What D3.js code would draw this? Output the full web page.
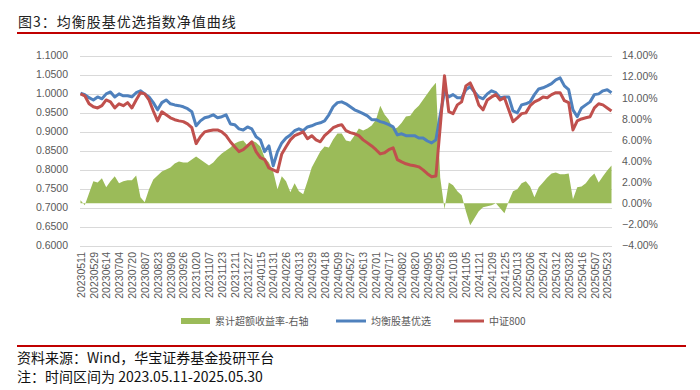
<!DOCTYPE html>
<html lang="zh">
<head>
<meta charset="UTF-8">
<title>均衡股基优选指数净值曲线</title>
<script src="https://cdnjs.cloudflare.com/ajax/libs/d3/7.8.5/d3.min.js"></script>
<style>
    body { margin: 0; background: #fff; }
    svg { display: block; }
    .axis text { font-family: "Liberation Sans", Arial, sans-serif; font-size: 10.5px; fill: #595959; }
    .cjk { font-family: "Noto Sans CJK SC", sans-serif; }
</style>
</head>
<body>
<div id="chart"></div>
<script>
// x tick labels (every 12 trading days)
const dates = ["20230511","20230529","20230614","20230704","20230720","20230807","20230823","20230908",
    "20230926","20231020","20231107","20231123","20231211","20231227","20240115","20240131","20240226",
    "20240313","20240329","20240418","20240509","20240527","20240613","20240701","20240717","20240802",
    "20240820","20240905","20240925","20241018","20241105","20241121","20241209","20241225","20250113",
    "20250206","20250224","20250312","20250328","20250416","20250507","20250523"];
const tickStep = 12;     // trading days between labels
const nDays = 497;       // trading days in the period
const sampleStep = 4;    // series below are read every 4 trading days

const leftTicks = [0.6, 0.65, 0.7, 0.75, 0.8, 0.85, 0.9, 0.95, 1.0, 1.05, 1.1];
const rightTicks = [-4, -2, 0, 2, 4, 6, 8, 10, 12, 14];

// 均衡股基优选 net value
const balanced = [1.001,0.997,0.989,0.983,0.991,0.986,0.999,1.004,0.991,0.999,0.994,0.994,0.991,1.002,1.007,0.999,
    0.991,0.976,0.957,0.976,0.983,0.973,0.970,0.968,0.965,0.960,0.952,0.915,0.928,0.936,0.939,0.944,
    0.936,0.939,0.944,0.920,0.918,0.907,0.904,0.912,0.907,0.886,0.878,0.847,0.862,0.810,0.847,0.870,
    0.883,0.891,0.902,0.907,0.902,0.912,0.915,0.920,0.923,0.928,0.944,0.965,0.976,0.978,0.973,0.965,
    0.957,0.952,0.947,0.941,0.931,0.931,0.926,0.923,0.918,0.912,0.891,0.894,0.889,0.889,0.889,0.883,
    0.883,0.875,0.870,0.878,0.944,1.004,0.991,0.997,0.989,0.989,1.010,1.018,1.004,0.991,0.986,0.999,
    1.007,1.002,0.989,0.991,0.991,0.954,0.949,0.970,0.973,0.978,0.997,1.012,1.015,1.020,1.026,1.036,
    1.041,1.020,1.010,0.957,0.939,0.962,0.970,0.978,0.997,0.999,1.007,1.010,1.002];

// 中证800 net value
const csi800 = [0.999,0.994,0.973,0.965,0.962,0.968,0.983,0.978,0.962,0.973,0.968,0.976,0.962,0.983,1.002,0.999,
    0.983,0.954,0.928,0.952,0.944,0.936,0.931,0.928,0.926,0.920,0.910,0.868,0.886,0.899,0.902,0.904,
    0.904,0.899,0.889,0.873,0.860,0.847,0.852,0.862,0.873,0.847,0.831,0.826,0.804,0.799,0.794,0.841,
    0.860,0.878,0.889,0.894,0.899,0.881,0.889,0.878,0.873,0.889,0.899,0.910,0.915,0.918,0.902,0.897,
    0.894,0.889,0.878,0.870,0.862,0.852,0.841,0.844,0.852,0.857,0.826,0.820,0.815,0.812,0.810,0.807,
    0.799,0.789,0.781,0.783,0.912,1.047,0.952,0.947,0.970,0.978,1.020,1.028,1.004,0.970,0.957,0.983,
    0.991,0.997,0.983,0.989,0.957,0.926,0.936,0.947,0.949,0.968,0.978,0.983,0.991,0.989,0.997,1.002,
    1.002,0.981,0.976,0.904,0.928,0.933,0.936,0.939,0.962,0.973,0.970,0.962,0.954];

// 累计超额收益率 (%), right axis
const excess = [0.28,-0.19,0.94,2.08,1.98,2.36,1.51,2.08,2.55,1.89,2.08,2.17,2.17,2.64,0.57,0.09,
    1.32,2.26,2.64,3.02,3.21,3.40,3.77,3.96,3.87,3.87,4.15,4.43,4.15,3.87,3.58,3.87,
    4.34,4.72,5.00,5.28,5.66,5.85,5.94,5.47,5.94,5.75,5.38,4.34,3.87,3.02,1.32,2.55,
    2.08,1.04,1.89,1.13,0.85,2.08,3.40,4.15,4.91,5.38,5.28,6.04,6.60,6.60,5.94,5.85,
    6.42,7.08,6.89,7.08,7.36,7.92,9.25,8.40,7.92,6.98,7.17,7.64,8.21,8.30,8.87,9.25,
    9.81,10.38,10.94,11.42,2.45,-0.57,1.98,1.70,1.13,0.75,-0.75,-2.08,-1.42,-0.75,-0.38,-0.28,
    -0.19,0.00,-0.47,-0.94,0.19,1.13,1.32,1.89,2.08,1.60,0.57,1.51,1.98,2.45,2.83,2.92,
    2.74,2.74,2.83,0.38,1.51,1.60,1.89,2.45,2.83,1.98,2.55,3.11,3.58];

const W = 700, H = 390;
const plot = {left: 80, right: 612, top: 55.5, bottom: 245.5};

const svg = d3.select("#chart").append("svg")
    .attr("width", W).attr("height", H);

// title + rules
svg.append("text").attr("class", "cjk")
    .attr("x", 18).attr("y", 27)
    .attr("font-size", 14).attr("letter-spacing", 1).attr("fill", "#222")
    .text("图3：均衡股基优选指数净值曲线");
svg.append("line").attr("x1", 17).attr("x2", 700).attr("y1", 33).attr("y2", 33)
    .attr("stroke", "#c00000").attr("stroke-width", 2);
svg.append("line").attr("x1", 17).attr("x2", 686).attr("y1", 346).attr("y2", 346)
    .attr("stroke", "#c00000").attr("stroke-width", 2);

const x = d3.scaleLinear().domain([0, nDays - 1]).range([plot.left + 0.5, plot.right - 0.5]);
const yL = d3.scaleLinear().domain([0.6, 1.1]).range([plot.bottom, plot.top]);
const yR = d3.scaleLinear().domain([-4, 14]).range([plot.bottom, plot.top]);

// gridlines
svg.append("g").selectAll("line")
    .data(leftTicks)
    .join("line")
    .attr("x1", plot.left).attr("x2", plot.right)
    .attr("y1", d => Math.round(yL(d)) + 0.5).attr("y2", d => Math.round(yL(d)) + 0.5)
    .attr("stroke", "#d9d9d9").attr("stroke-width", 1);

// axes
svg.append("g").attr("class", "axis")
    .attr("transform", `translate(${plot.left},0)`)
    .call(d3.axisLeft(yL).tickValues(leftTicks).tickFormat(d3.format(".4f")).tickSize(0).tickPadding(12))
    .call(g => g.select(".domain").remove());

svg.append("g").attr("class", "axis")
    .attr("transform", `translate(${plot.right},0)`)
    .call(d3.axisRight(yR).tickValues(rightTicks).tickFormat(d => d3.format(".2f")(d) + "%").tickSize(0).tickPadding(10))
    .call(g => g.select(".domain").remove());

svg.append("g").attr("class", "axis")
    .attr("transform", `translate(0,${plot.bottom + 1.5})`)
    .call(d3.axisBottom(x).tickValues(dates.map((d, i) => i * tickStep)).tickFormat((d, i) => dates[i]).tickSize(0))
    .call(g => g.select(".domain").remove())
    .call(g => g.selectAll("text")
        .attr("x", -5).attr("y", 0).attr("dy", "0.35em")
        .attr("transform", "rotate(-90)")
        .style("text-anchor", "end"));

// excess return area
const xi = (d, i) => x(i * sampleStep);
svg.append("path")
    .datum(excess)
    .attr("fill", "#9bbb59")
    .attr("d", d3.area().x(xi).y0(yR(0)).y1(d => yR(d)));

const line = d3.line().x(xi).y(d => yL(d));
svg.append("path").datum(balanced)
    .attr("fill", "none").attr("stroke", "#4f81bd").attr("stroke-width", 3)
    .attr("stroke-linejoin", "round").attr("d", line);
svg.append("path").datum(csi800)
    .attr("fill", "none").attr("stroke", "#c0504d").attr("stroke-width", 3)
    .attr("stroke-linejoin", "round").attr("d", line);

// legend
const legend = [
    {name: "累计超额收益率-右轴", color: "#9bbb59", type: "area", x: 181},
    {name: "均衡股基优选", color: "#4f81bd", type: "line", x: 336},
    {name: "中证800", color: "#c0504d", type: "line", x: 454}
];
const lg = svg.append("g").selectAll("g").data(legend).join("g")
    .attr("transform", d => `translate(${d.x},321)`);
lg.filter(d => d.type === "area").append("rect")
    .attr("x", 0).attr("y", -3).attr("width", 29).attr("height", 6).attr("fill", d => d.color);
lg.filter(d => d.type === "line").append("line")
    .attr("x1", 0).attr("x2", 30).attr("y1", 0).attr("y2", 0)
    .attr("stroke", d => d.color).attr("stroke-width", 3);
lg.append("text").attr("class", "cjk")
    .attr("x", d => d.type === "area" ? 34 : 35).attr("y", 0).attr("dy", "0.35em")
    .attr("font-size", 10).attr("fill", "#595959")
    .text(d => d.name);

// source notes
svg.append("text").attr("class", "cjk")
    .attr("x", 17).attr("y", 363).attr("font-size", 14).attr("fill", "#111")
    .text("资料来源：Wind，华宝证券基金投研平台");
svg.append("text").attr("class", "cjk")
    .attr("x", 17).attr("y", 382).attr("font-size", 14).attr("fill", "#111")
    .text("注：时间区间为 2023.05.11-2025.05.30");
</script>
</body>
</html>
